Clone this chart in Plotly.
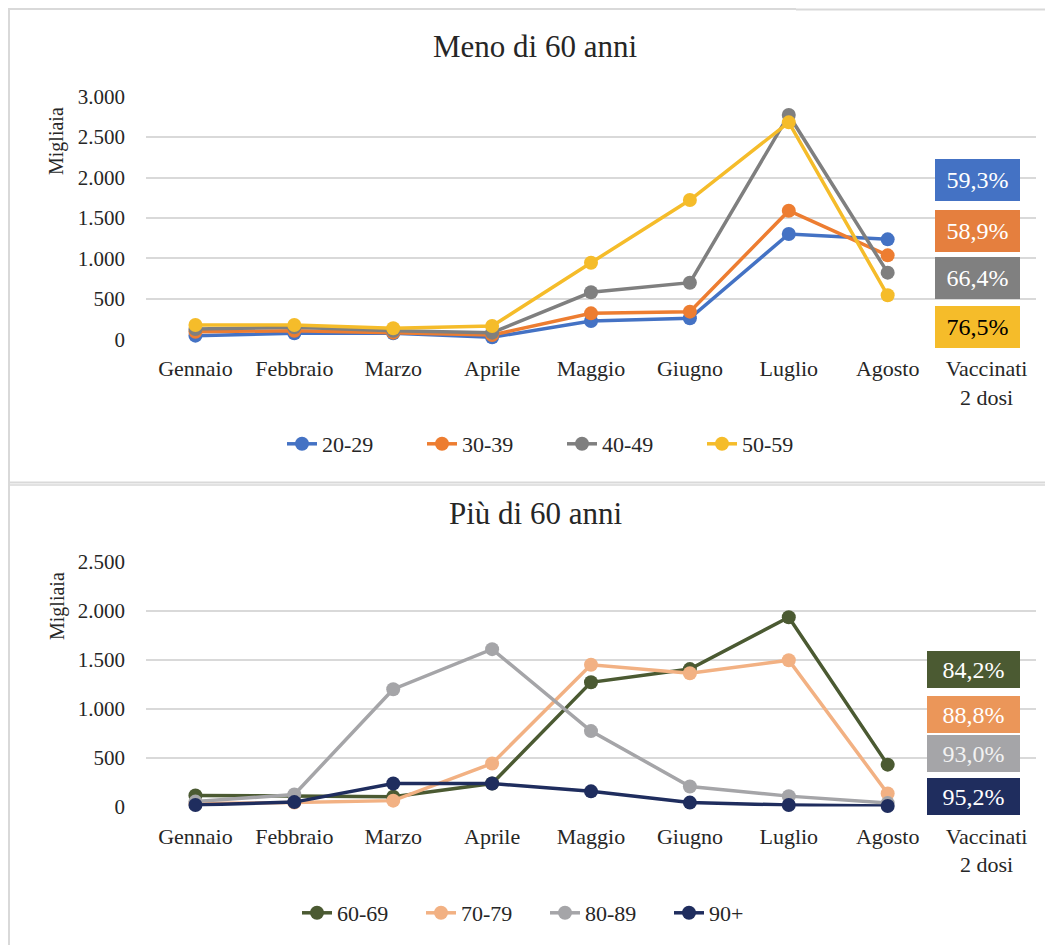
import plotly.graph_objects as go

# ---------------- data ----------------
months = ["Gennaio", "Febbraio", "Marzo", "Aprile", "Maggio", "Giugno", "Luglio", "Agosto"]
extra_cat = "Vaccinati<br>2 dosi"
categories = months + [extra_cat]

groups_under = ["20-29", "30-39", "40-49", "50-59"]
v_20_29 = [45, 74, 74, 25, 226, 260, 1302, 1236]
v_30_39 = [94, 106, 82, 53, 321, 342, 1590, 1038]
v_40_49 = [127, 148, 106, 82, 581, 700, 2774, 824]
v_50_59 = [177, 177, 136, 164, 947, 1722, 2683, 544]
pct_under = ["59,3%", "58,9%", "66,4%", "76,5%"]

groups_over = ["60-69", "70-79", "80-89", "90+"]
v_60_69 = [113, 110, 100, 235, 1270, 1405, 1935, 428]
v_70_79 = [30, 40, 60, 440, 1450, 1363, 1496, 133]
v_80_89 = [50, 123, 1199, 1609, 771, 205, 106, 35]
v_90p = [15, 45, 235, 235, 155, 40, 15, 5]
pct_over = ["84,2%", "88,8%", "93,0%", "95,2%"]

yt_top_vals = [0, 500, 1000, 1500, 2000, 2500, 3000]
yt_top_text = ["0", "500", "1.000", "1.500", "2.000", "2.500", "3.000"]
yt_bot_vals = [0, 500, 1000, 1500, 2000, 2500]
yt_bot_text = ["0", "500", "1.000", "1.500", "2.000", "2.500"]

# ---------------- styles ----------------
W, H = 1053, 945
OFF = 8  # page body margin offset
FONT = "Liberation Serif"
TXT = "#262626"
GRID = "#D9D9D9"

col_under = ["#4472C4", "#ED7D31", "#7F7F7F", "#F5BC2A"]
box_under = ["#4472C4", "#E57F3E", "#808080", "#F5BC2A"]
txt_under = ["white", "white", "white", "black"]

col_over = ["#4B5A32", "#F2B183", "#A5A5A8", "#1F2D5E"]
box_over = ["#4B5A32", "#EB9659", "#A5A5A8", "#1F2D5E"]
txt_over = ["white", "white", "#F2F2F2", "white"]

# label box centres (axis units) for the "Vaccinati 2 dosi" column
lab_y_top = [1976, 1335, 760, 148]
lab_y_bot = [1403, 943, 544, 104]


def px(x):
    return (x - OFF) / W


def py(y):
    return 1 - (y - OFF) / H


fig = go.Figure()

for name, vals, c in zip(groups_under, [v_20_29, v_30_39, v_40_49, v_50_59], col_under):
    fig.add_trace(go.Scatter(
        x=months, y=vals, name=name, mode="lines+markers",
        line=dict(color=c, width=3.5), marker=dict(color=c, size=14),
        xaxis="x", yaxis="y", legend="legend", cliponaxis=False,
    ))

for name, vals, c in zip(groups_over, [v_60_69, v_70_79, v_80_89, v_90p], col_over):
    fig.add_trace(go.Scatter(
        x=months, y=vals, name=name, mode="lines+markers",
        line=dict(color=c, width=3.5), marker=dict(color=c, size=14),
        xaxis="x2", yaxis="y2", legend="legend2", cliponaxis=False,
    ))

xdom = [px(146), px(1036)]
common_x = dict(
    type="category", categoryorder="array", categoryarray=categories,
    range=[-0.5, 8.5], showgrid=False, showline=False, zeroline=False,
    ticks="", tickfont=dict(family=FONT, size=22, color=TXT), domain=xdom,
    ticklabelstandoff=14, automargin=False,
)
common_y = dict(
    showgrid=True, gridcolor=GRID, gridwidth=1.5, zeroline=False, showline=False,
    ticks="", tickfont=dict(family=FONT, size=21, color=TXT), ticklabelstandoff=20,
    automargin=False,
)

fig.update_layout(
    width=W, height=H,
    margin=dict(l=0, r=0, t=0, b=0, autoexpand=False),
    paper_bgcolor="white", plot_bgcolor="white",
    font=dict(family=FONT, color=TXT),
    showlegend=True,
    xaxis=dict(**common_x, anchor="y"),
    yaxis=dict(**common_y, range=[0, 3000], tickvals=yt_top_vals, ticktext=yt_top_text,
               domain=[py(339.3), py(96.7)], anchor="x"),
    xaxis2=dict(**common_x, anchor="y2"),
    yaxis2=dict(**common_y, range=[0, 2500], tickvals=yt_bot_vals, ticktext=yt_bot_text,
                domain=[py(806.5), py(562)], anchor="x2"),
    legend=dict(orientation="h", x=px(562), y=py(444), xanchor="center", yanchor="middle",
                font=dict(family=FONT, size=22, color=TXT), itemwidth=30,
                entrywidth=95, entrywidthmode="pixels",
                bgcolor="rgba(0,0,0,0)"),
    legend2=dict(orientation="h", x=px(545), y=py(913), xanchor="center", yanchor="middle",
                 font=dict(family=FONT, size=22, color=TXT), itemwidth=30,
                 entrywidth=79, entrywidthmode="pixels",
                 bgcolor="rgba(0,0,0,0)"),
)

annotations = []
# titles
annotations.append(dict(text="Meno di 60 anni", x=px(535), y=py(46), xref="paper", yref="paper",
                        showarrow=False, xanchor="center", yanchor="middle",
                        font=dict(family=FONT, size=31, color=TXT)))
annotations.append(dict(text="Più di 60 anni", x=px(535), y=py(514), xref="paper", yref="paper",
                        showarrow=False, xanchor="center", yanchor="middle",
                        font=dict(family=FONT, size=31, color=TXT)))
# y-axis titles
for yc in (141, 606):
    annotations.append(dict(text="Migliaia", x=px(57), y=py(yc), xref="paper", yref="paper",
                            showarrow=False, textangle=-90, xanchor="center", yanchor="middle",
                            font=dict(family=FONT, size=20, color=TXT)))
# percentage boxes
for t, yv, bc, tc in zip(pct_under, lab_y_top, box_under, txt_under):
    annotations.append(dict(text=t, x=extra_cat, y=yv, xref="x", yref="y", showarrow=False,
                            xanchor="center", yanchor="middle", xshift=-9,
                            width=85, height=42, bgcolor=bc, borderpad=0, borderwidth=0,
                            font=dict(family=FONT, size=24, color=tc)))
for t, yv, bc, tc in zip(pct_over, lab_y_bot, box_over, txt_over):
    annotations.append(dict(text=t, x=extra_cat, y=yv, xref="x2", yref="y2", showarrow=False,
                            xanchor="center", yanchor="middle", xshift=-13,
                            width=93, height=37, bgcolor=bc, borderpad=0, borderwidth=0,
                            font=dict(family=FONT, size=24, color=tc)))
fig.update_layout(annotations=annotations)

# chart frame lines
BORDER = "#D9D9D9"
shapes = [
    dict(type="line", xref="paper", yref="paper", x0=1 / W, x1=1 / W, y0=1, y1=0,
         line=dict(color=BORDER, width=2)),
    dict(type="line", xref="paper", yref="paper", x0=0, x1=px(796), y0=1 - 1 / H, y1=1 - 1 / H,
         line=dict(color=BORDER, width=2)),
    dict(type="line", xref="paper", yref="paper", x0=px(796), x1=1, y0=py(9.5), y1=py(9.5),
         line=dict(color=BORDER, width=2)),
    dict(type="line", xref="paper", yref="paper", x0=0, x1=1, y0=py(482.5), y1=py(482.5),
         line=dict(color=BORDER, width=2)),
    dict(type="line", xref="paper", yref="paper", x0=0, x1=1, y0=py(485), y1=py(485),
         line=dict(color=BORDER, width=1.5)),
]
fig.update_layout(shapes=shapes)

fig.write_html("out.html")
